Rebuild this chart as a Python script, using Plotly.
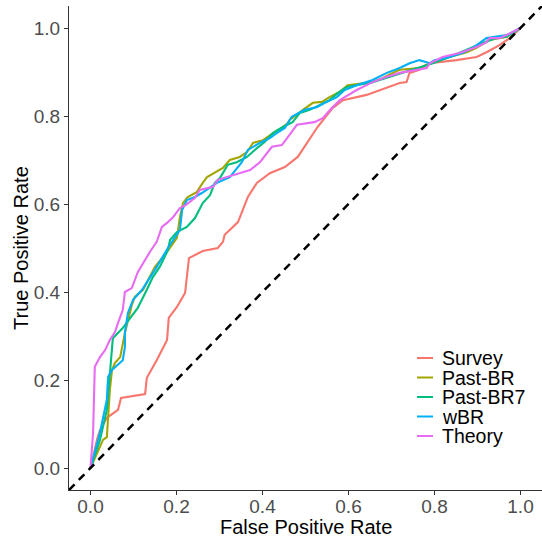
import plotly.graph_objects as go

# ---- data ----
survey_fpr = [0, 0.003, 0.015, 0.022, 0.038, 0.064, 0.071, 0.127, 0.131, 0.154, 0.178, 0.182, 0.201, 0.220,
              0.229, 0.261, 0.296, 0.308, 0.312, 0.343, 0.366, 0.387, 0.417, 0.452, 0.482, 0.503, 0.528,
              0.563, 0.587, 0.642, 0.689, 0.719, 0.735, 0.742, 0.765, 0.789, 0.851, 0.898, 0.921, 0.951,
              0.975, 1.0]
survey_tpr = [0, 0.011, 0.064, 0.086, 0.114, 0.132, 0.159, 0.168, 0.205, 0.245, 0.291, 0.341, 0.366, 0.398,
              0.477, 0.493, 0.500, 0.514, 0.530, 0.559, 0.616, 0.648, 0.670, 0.684, 0.707, 0.739, 0.775,
              0.818, 0.836, 0.848, 0.864, 0.875, 0.877, 0.898, 0.905, 0.920, 0.927, 0.934, 0.945, 0.961,
              0.977, 1.0]

pastbr_fpr = [0, 0.029, 0.038, 0.041, 0.045, 0.050, 0.057, 0.069, 0.073, 0.080, 0.096, 0.103, 0.122, 0.150,
              0.178, 0.201, 0.208, 0.215, 0.226, 0.247, 0.261, 0.271, 0.308, 0.324, 0.347, 0.364, 0.378,
              0.401, 0.429, 0.445, 0.459, 0.463, 0.494, 0.517, 0.538, 0.556, 0.580, 0.598, 0.656, 0.679,
              0.703, 0.719, 0.765, 0.796, 0.835, 0.875, 0.898, 0.928, 0.968, 1.0]
pastbr_tpr = [0, 0.064, 0.070, 0.116, 0.177, 0.223, 0.239, 0.252, 0.275, 0.307, 0.370, 0.389, 0.405, 0.457,
              0.491, 0.523, 0.570, 0.602, 0.616, 0.627, 0.648, 0.661, 0.682, 0.700, 0.707, 0.718, 0.739,
              0.745, 0.764, 0.773, 0.784, 0.791, 0.814, 0.830, 0.832, 0.843, 0.855, 0.870, 0.877, 0.886,
              0.898, 0.905, 0.909, 0.923, 0.934, 0.945, 0.955, 0.973, 0.980, 1.0]

pastbr7_fpr = [0, 0.022, 0.038, 0.045, 0.048, 0.052, 0.075, 0.092, 0.110, 0.131, 0.145, 0.161, 0.180, 0.185,
               0.201, 0.224, 0.243, 0.261, 0.278, 0.289, 0.301, 0.312, 0.319, 0.340, 0.364, 0.387, 0.405,
               0.424, 0.447, 0.470, 0.487, 0.510, 0.533, 0.556, 0.575, 0.596, 0.656, 0.696, 0.735, 0.765,
               0.796, 0.835, 0.889, 0.912, 0.944, 0.968, 1.0]
pastbr7_tpr = [0, 0.064, 0.132, 0.216, 0.261, 0.295, 0.318, 0.341, 0.364, 0.405, 0.434, 0.457, 0.495, 0.518,
               0.536, 0.548, 0.568, 0.602, 0.620, 0.648, 0.659, 0.677, 0.689, 0.695, 0.707, 0.727, 0.741,
               0.761, 0.775, 0.786, 0.807, 0.814, 0.825, 0.836, 0.852, 0.866, 0.877, 0.889, 0.900, 0.909,
               0.920, 0.934, 0.957, 0.966, 0.977, 0.980, 1.0]

wbr_fpr = [0, 0.022, 0.038, 0.041, 0.050, 0.075, 0.080, 0.080, 0.087, 0.099, 0.120, 0.154, 0.180, 0.203,
           0.208, 0.213, 0.224, 0.243, 0.259, 0.294, 0.324, 0.352, 0.366, 0.394, 0.417, 0.433, 0.452, 0.459,
           0.468, 0.498, 0.526, 0.545, 0.573, 0.591, 0.619, 0.656, 0.689, 0.719, 0.742, 0.765, 0.789, 0.800,
           0.835, 0.865, 0.889, 0.921, 0.944, 0.968, 1.0]
wbr_tpr = [0, 0.080, 0.155, 0.207, 0.223, 0.245, 0.275, 0.307, 0.352, 0.382, 0.405, 0.457, 0.500, 0.534,
           0.541, 0.586, 0.609, 0.616, 0.625, 0.648, 0.661, 0.695, 0.723, 0.739, 0.750, 0.761, 0.773, 0.784,
           0.798, 0.814, 0.820, 0.830, 0.843, 0.859, 0.870, 0.882, 0.898, 0.909, 0.920, 0.927, 0.920, 0.927,
           0.934, 0.943, 0.955, 0.977, 0.980, 0.984, 1.0]

theory_fpr = [0, 0.003, 0.006, 0.008, 0.010, 0.022, 0.034, 0.045, 0.057, 0.064, 0.075, 0.080, 0.096, 0.110,
              0.122, 0.138, 0.154, 0.166, 0.178, 0.192, 0.208, 0.222, 0.243, 0.254, 0.285, 0.296, 0.371,
              0.394, 0.422, 0.445, 0.459, 0.480, 0.521, 0.540, 0.561, 0.580, 0.619, 0.656, 0.689, 0.719,
              0.782, 0.789, 0.819, 0.858, 0.898, 0.921, 0.928, 0.951, 0.968, 1.0]
theory_tpr = [0, 0.034, 0.080, 0.155, 0.230, 0.252, 0.268, 0.291, 0.309, 0.330, 0.359, 0.400, 0.409, 0.445,
              0.466, 0.491, 0.514, 0.548, 0.557, 0.570, 0.591, 0.598, 0.614, 0.632, 0.639, 0.655, 0.677,
              0.695, 0.730, 0.734, 0.752, 0.780, 0.786, 0.795, 0.818, 0.836, 0.859, 0.877, 0.889, 0.898,
              0.909, 0.920, 0.934, 0.943, 0.957, 0.968, 0.977, 0.977, 0.984, 1.0]

series_names = ["Survey", "Past-BR", "Past-BR7", "wBR", "Theory"]
series_x = [survey_fpr, pastbr_fpr, pastbr7_fpr, wbr_fpr, theory_fpr]
series_y = [survey_tpr, pastbr_tpr, pastbr7_tpr, wbr_tpr, theory_tpr]
colors = ["#F8766D", "#A3A500", "#00BF7D", "#00B0F6", "#E76BF3"]

tick_vals = [0.0, 0.2, 0.4, 0.6, 0.8, 1.0]
tick_text = ["0.0", "0.2", "0.4", "0.6", "0.8", "1.0"]
diag = [-0.05, 1.05]

FONT = "Liberation Sans, Arial, sans-serif"
W, H = 542, 537
ML, MR, MT, MB = 69, 0, 6, 47

fig = go.Figure()
for name, xs, ys, c in zip(series_names, series_x, series_y, colors):
    fig.add_trace(go.Scatter(x=xs, y=ys, mode="lines", name=name,
                             line=dict(color=c, width=2.1), showlegend=False))
fig.add_trace(go.Scatter(x=diag, y=diag, mode="lines", showlegend=False,
                         line=dict(color="black", width=2.5, dash="8px,6px")))

axis_common = dict(range=[-0.05, 1.05], showgrid=False, zeroline=False,
                   showline=True, linecolor="#333333", linewidth=1.2,
                   ticks="outside", ticklen=4, tickwidth=1.1, tickcolor="#333333",
                   tickvals=tick_vals, ticktext=tick_text,
                   tickfont=dict(family=FONT, size=19, color="#4D4D4D"))
fig.update_xaxes(**axis_common, ticklabelstandoff=-5)
fig.update_yaxes(**axis_common)

# manual legend (ggplot style)
pw, ph = W - ML - MR, H - MT - MB
def px2paper_x(px):
    return (px - ML) / pw
def px2paper_y(py):
    return (H - MB - py) / ph

shapes = []
annotations = []
leg_y0, leg_dy = 358, 19.5
for i, (name, c) in enumerate(zip(series_names, colors)):
    yy = leg_y0 + i * leg_dy
    shapes.append(dict(type="line", xref="paper", yref="paper",
                       x0=px2paper_x(417), x1=px2paper_x(433),
                       y0=px2paper_y(yy), y1=px2paper_y(yy),
                       line=dict(color=c, width=2)))
    annotations.append(dict(xref="paper", yref="paper", x=px2paper_x(440), y=px2paper_y(yy),
                            text=name, showarrow=False, xanchor="left", yanchor="middle",
                            font=dict(family=FONT, size=19.5, color="black")))

# axis titles
annotations.append(dict(xref="paper", yref="paper", x=0.5, y=px2paper_y(527), text="False Positive Rate",
                        showarrow=False, xanchor="center", yanchor="middle",
                        font=dict(family=FONT, size=20, color="black")))
annotations.append(dict(xref="paper", yref="paper", x=px2paper_x(21), y=0.5, text="True Positive Rate",
                        showarrow=False, xanchor="center", yanchor="middle", textangle=-90,
                        font=dict(family=FONT, size=20, color="black")))

fig.update_layout(width=W, height=H, margin=dict(l=ML, r=MR, t=MT, b=MB),
                  paper_bgcolor="white", plot_bgcolor="white",
                  shapes=shapes, annotations=annotations, showlegend=False)

fig.write_html("out.html")
